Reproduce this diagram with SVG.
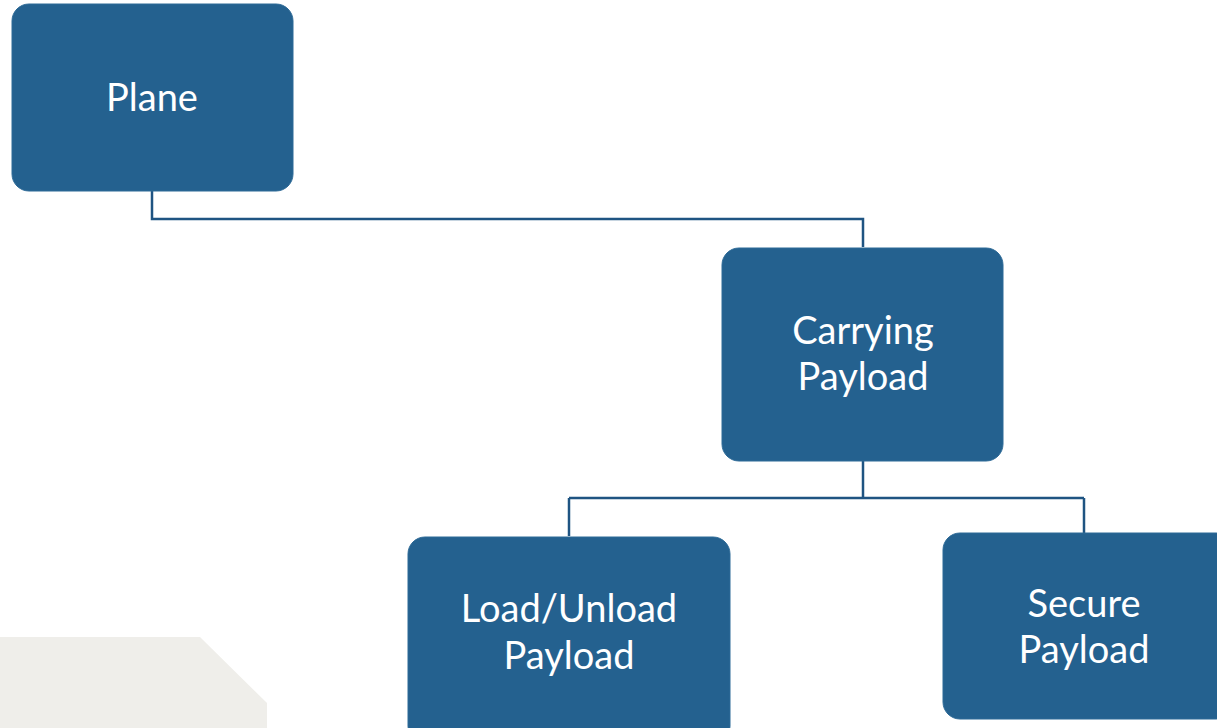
<svg xmlns="http://www.w3.org/2000/svg" width="1217" height="728" viewBox="0 0 1217 728">
  <style>
    .box { fill: #24618f; stroke: #2d6a97; stroke-width: 1; }
    .label { font-family: Lato, "Open Sans", sans-serif; font-size: 38px; fill: #ffffff; text-anchor: middle; }
    .wire { fill: none; stroke: #1f5482; stroke-width: 2.5; }
  </style>
  <rect width="1217" height="728" fill="#ffffff"/>
  <!-- decorative backdrop panel -->
  <path d="M0 637 H200 L267 703 V728 H0 Z" fill="#efeeea"/>

  <g id="connectors">
    <path class="wire" d="M152 191 V219 H863 V247"/>
    <path class="wire" d="M863 461 V498"/>
    <path class="wire" d="M569 498 H1084"/>
    <path class="wire" d="M569 498 V536"/>
    <path class="wire" d="M1084 498 V533"/>
  </g>

  <g id="plane">
    <rect class="box" x="12" y="4" width="281" height="187" rx="17"/>
    <text class="label" x="152" y="111">Plane</text>
  </g>

  <g id="carrying-payload">
    <rect class="box" x="722" y="248" width="281" height="213" rx="17"/>
    <text class="label" x="863" y="344">Carrying</text>
    <text class="label" x="863" y="390">Payload</text>
  </g>

  <g id="load-unload-payload">
    <rect class="box" x="408" y="537" width="322" height="206" rx="17"/>
    <text class="label" x="569" y="622">Load/Unload</text>
    <text class="label" x="569" y="669">Payload</text>
  </g>

  <g id="secure-payload">
    <rect class="box" x="943" y="533" width="290" height="186" rx="17"/>
    <text class="label" x="1084" y="617">Secure</text>
    <text class="label" x="1084" y="663">Payload</text>
  </g>
</svg>
